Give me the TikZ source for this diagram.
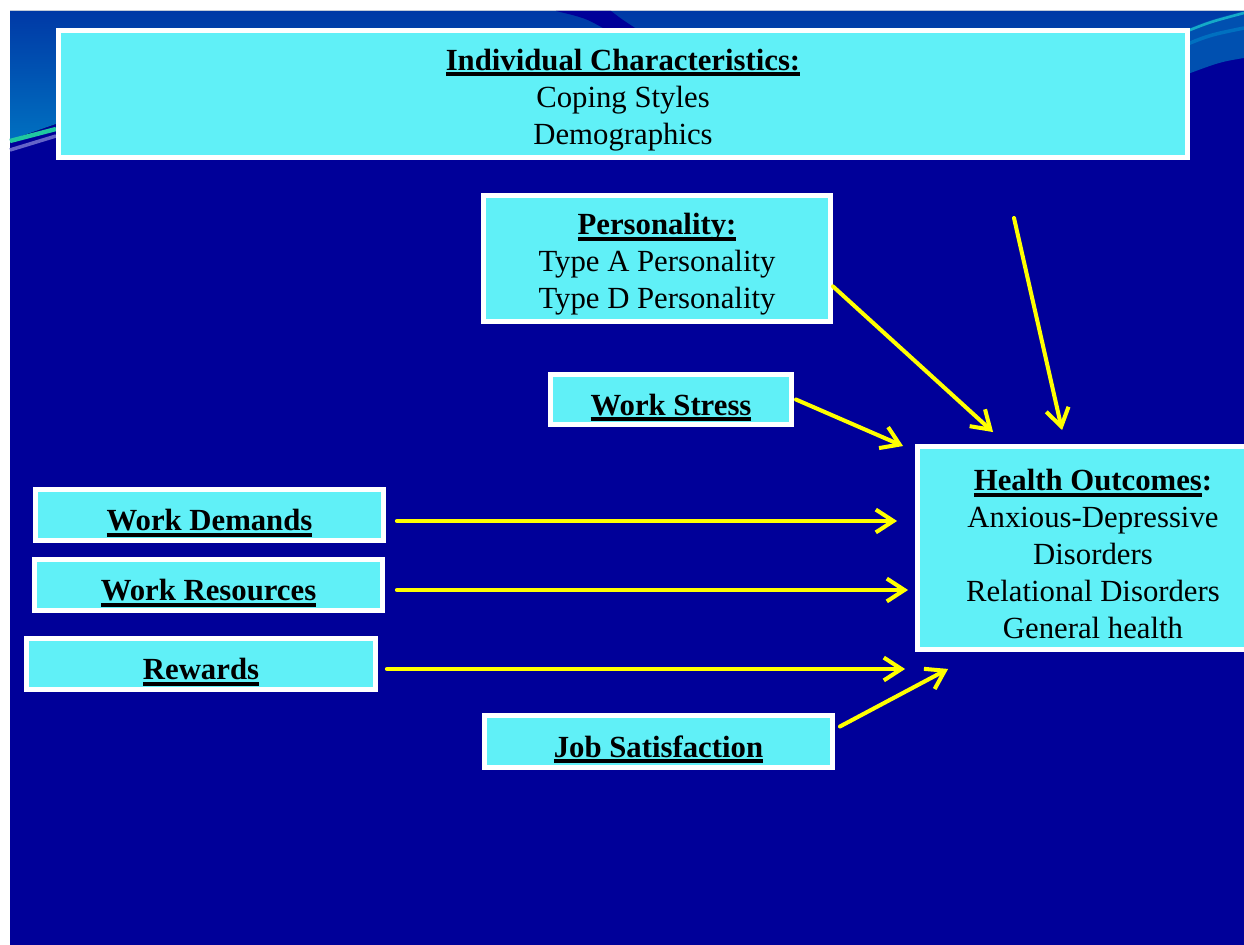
\documentclass[tikz,border=0pt]{standalone}
\usepackage{fontspec}
\setmainfont{Liberation Serif}
\usepackage{tikz}
\usetikzlibrary{arrows.meta,calc}
\definecolor{slideblue}{RGB}{0,0,153}
\definecolor{bandblue}{RGB}{0,57,166}
\definecolor{lightband}{RGB}{0,112,192}
\definecolor{midband}{RGB}{0,80,176}
\definecolor{swooshgreen}{RGB}{32,200,160}
\definecolor{swooshlav}{RGB}{100,100,200}
\definecolor{swooshteal}{RGB}{20,170,200}
\definecolor{boxcyan}{RGB}{96,240,247}
\definecolor{arrowyellow}{RGB}{255,255,0}
\newcommand{\ulbf}[1]{\setbox0\hbox{\bfseries #1}\rlap{\vrule height -1pt depth 3.3pt width \wd0}\box0}
\newcommand{\toppad}{\rule{0pt}{19pt}}
\tikzset{mybox/.style={draw=white,fill=boxcyan,line width=2.8pt,inner sep=0pt,align=center,
  font=\fontsize{17.5}{21}\selectfont},
myonebox/.style={mybox,text height=18pt,text depth=0pt},
myarrow/.style={draw=arrowyellow,line width=2.3pt,line cap=round,-{Straight Barb[length=10pt,width=13pt]}}}

\begin{document}
\begin{tikzpicture}[x=0.02cm,y=-0.02cm]
\useasboundingbox (0,0) rectangle (1244,945);
\clip (0,0) rectangle (1244,945);
\fill[white] (0,0) rectangle (1244,945);
\fill[slideblue] (10,11) rectangle (1244,945);
\fill[top color=bandblue,bottom color=lightband] (10,11) -- (1244,11) -- (1244,28) -- (56,28) -- (56,124) -- (10,140) -- cycle;
\fill[slideblue] (556,11) -- (611,11) .. controls (620,18) .. (635,28) -- (603,28) .. controls (585,18) .. (556,11) -- cycle;
\fill[midband] (1185,30) .. controls (1210,20) .. (1244,11) -- (1244,58) .. controls (1220,62) .. (1185,75) -- cycle;
\draw[swooshteal,line width=1.5pt] (1185,32) .. controls (1210,22) .. (1244,13);
\draw[lightband,line width=2pt] (1185,45) .. controls (1210,35) .. (1244,28);
\draw[swooshgreen,line width=2.5pt] (10,141) -- (56,129);
\draw[swooshlav,line width=2pt] (10,150) -- (56,136);

\node[mybox,minimum width=22.58cm,minimum height=2.54cm] (ic) at (623,94) {\toppad\ulbf{Individual Characteristics:}\\Coping Styles\\Demographics};
\node[mybox,minimum width=6.94cm,minimum height=2.52cm] (ps) at (657,258.5) {\toppad\ulbf{Personality:}\\Type A Personality\\Type D Personality};
\node[myonebox,minimum width=4.82cm,minimum height=1cm] (ws) at (671,399.5) {\ulbf{Work Stress}};
\node[myonebox,minimum width=6.96cm,minimum height=1.02cm] (wd) at (209.5,515) {\ulbf{Work Demands}};
\node[myonebox,minimum width=6.96cm,minimum height=1.02cm] (wr) at (208.5,585) {\ulbf{Work Resources}};
\node[myonebox,minimum width=6.98cm,minimum height=1.02cm] (rw) at (201,664) {\ulbf{Rewards}};
\node[myonebox,minimum width=6.96cm,minimum height=1.04cm] (js) at (658.5,741.5) {\ulbf{Job Satisfaction}};
\node[mybox,minimum width=7.02cm,minimum height=4.06cm] (ho) at (1093,548) {\toppad\ulbf{Health Outcomes}\textbf{:}\\Anxious-Depressive\\Disorders\\Relational Disorders\\General health};
\coordinate (icx) at (1014,218);

\draw[myarrow] (ps.-9) -- ($(ho.north west)+(78,-12)$);
\draw[myarrow] (icx) -- ($(ho.north west)+(147,-14)$);
\draw[myarrow] ($(ws.east)+(2,0)$) -- ($(ho.north west)+(-12,2)$);
\draw[myarrow] ($(wd.east)+(11,6)$) -- ($(wd.east -| ho.west)+(-18,6)$);
\draw[myarrow] ($(wr.east)+(12,5)$) -- ($(wr.east -| ho.west)+(-7,5)$);
\draw[myarrow] ($(rw.east)+(9,5)$) -- ($(rw.east -| ho.west)+(-10,5)$);
\draw[myarrow] ($(js.east)+(5,-15)$) -- ($(ho.south west)+(33,17)$);
\end{tikzpicture}
\end{document}
